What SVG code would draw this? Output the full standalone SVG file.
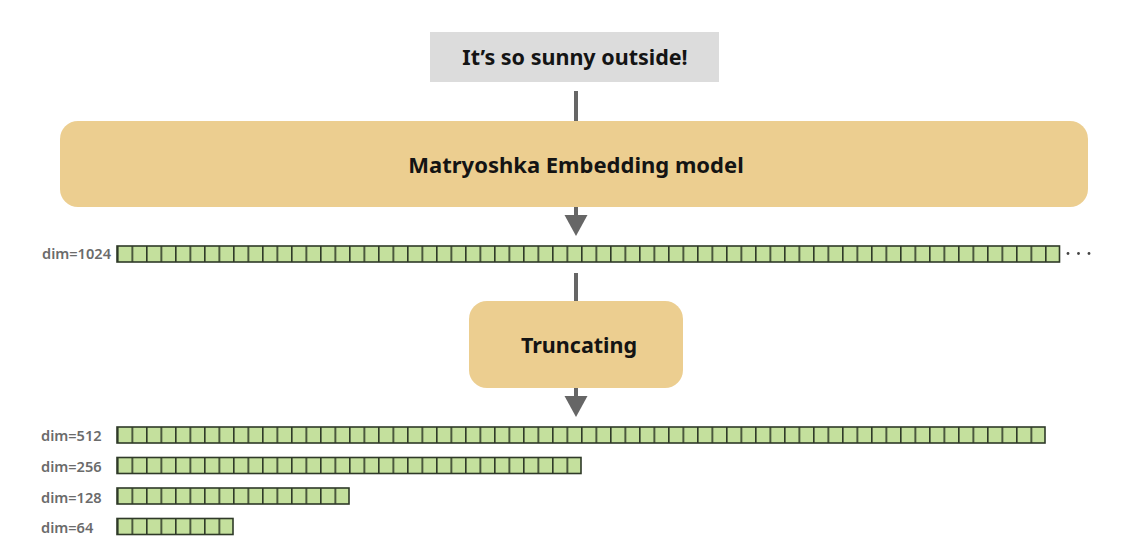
<svg xmlns="http://www.w3.org/2000/svg" width="1140" height="556" viewBox="0 0 1140 556">
<style>
.box{fill:#ecce90}
.title{font-family:"Noto Sans","Open Sans",sans-serif;font-weight:700;fill:#141414;text-anchor:middle}
.lbl{font-family:"Noto Sans","Open Sans",sans-serif;font-weight:600;fill:#6b6b6b}
.row{fill:url(#cells);stroke:#2f3a28;stroke-width:1.6}
.conn{stroke:#666;stroke-width:4;fill:none}
.head{fill:#666}
</style>
<defs>
<pattern id="cells" x="117" y="0" width="14.5" height="600" patternUnits="userSpaceOnUse">
<rect x="0" y="0" width="14.5" height="600" fill="#c4e09d"/>
<line x1="0" y1="0" x2="0" y2="600" stroke="#2f3a28" stroke-width="3.2"/>
</pattern>
</defs>
<rect width="1140" height="556" fill="#fff"/>
<g id="connectors">
<line class="conn" x1="576" y1="91" x2="576" y2="121"/>
<line class="conn" x1="576" y1="207" x2="576" y2="217"/>
<polygon class="head" points="564.5,215 587.5,215 576,236"/>
<line class="conn" x1="576" y1="273" x2="576" y2="301"/>
<line class="conn" x1="576" y1="388" x2="576" y2="398"/>
<polygon class="head" points="564.5,396 587.5,396 576,417"/>
</g>
<g id="input">
<rect x="430" y="32" width="289" height="50" fill="#dcdcdc"/>
<text class="title" x="575" y="65" font-size="21.5">It’s so sunny outside!</text>
</g>
<g id="model">
<rect class="box" x="60" y="121" width="1028" height="86" rx="18"/>
<text class="title" x="576" y="173" font-size="22">Matryoshka Embedding model</text>
</g>
<g id="dim1024">
<text class="lbl" x="111" y="259" font-size="14" text-anchor="end" textLength="69" lengthAdjust="spacingAndGlyphs">dim=1024</text>
<rect class="row" x="117" y="246" width="942.5" height="16"/>
<circle cx="1068" cy="253.5" r="1.4" fill="#444"/>
<circle cx="1078.5" cy="253.5" r="1.4" fill="#444"/>
<circle cx="1089" cy="253.5" r="1.4" fill="#444"/>
</g>
<g id="truncating">
<rect class="box" x="469" y="301" width="214" height="87" rx="18"/>
<text class="title" x="579" y="353" font-size="21.5">Truncating</text>
</g>
<g id="dim512">
<text class="lbl" x="41" y="441" font-size="14.6">dim=512</text>
<rect class="row" x="117" y="427" width="928" height="16"/>
</g>
<g id="dim256">
<text class="lbl" x="41" y="472" font-size="14.6">dim=256</text>
<rect class="row" x="117" y="457.5" width="464" height="16"/>
</g>
<g id="dim128">
<text class="lbl" x="41" y="503" font-size="14.6">dim=128</text>
<rect class="row" x="117" y="488" width="232" height="16"/>
</g>
<g id="dim64">
<text class="lbl" x="41" y="533" font-size="14.6">dim=64</text>
<rect class="row" x="117" y="518.5" width="116" height="16"/>
</g>
</svg>
